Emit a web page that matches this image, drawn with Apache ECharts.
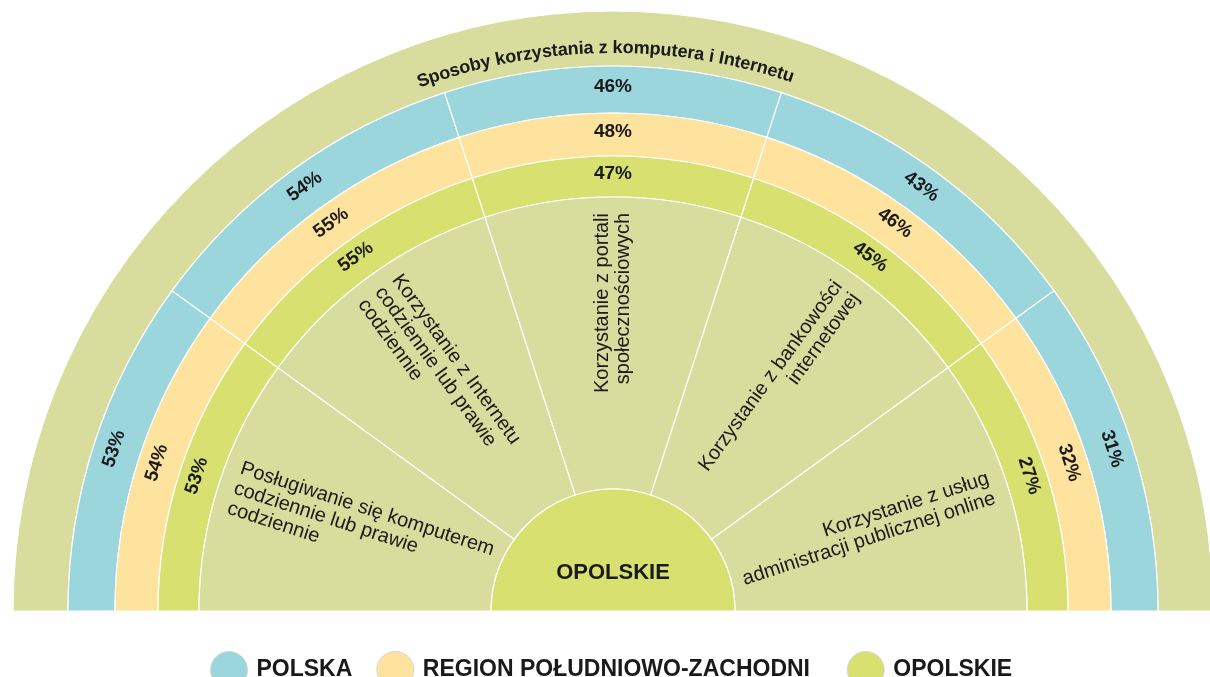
<!DOCTYPE html>
<html>
<head>
<meta charset="utf-8">
<title>Sposoby korzystania z komputera i Internetu</title>
<script src="https://cdn.jsdelivr.net/npm/echarts@6/dist/echarts.min.js"></script>
<style>
  html, body { margin: 0; padding: 0; background: #fff; }
  #chart { width: 1210px; height: 677px; }
</style>
</head>
<body>
<div id="chart"></div>
<script>
// dane
var title = 'Sposoby korzystania z komputera i Internetu';
var categories = [
  'Posługiwanie się komputerem\ncodziennie lub prawie\ncodziennie',
  'Korzystanie z Internetu\ncodziennie lub prawie\ncodziennie',
  'Korzystanie z portali\nspołecznościowych',
  'Korzystanie z bankowości\ninternetowej',
  'Korzystanie z usług\nadministracji publicznej online'
];
var polska = [53, 54, 46, 43, 31];
var region = [54, 55, 48, 46, 32];
var opolskie = [53, 55, 47, 45, 27];
var seriesNames = ['POLSKA', 'REGION POŁUDNIOWO-ZACHODNI', 'OPOLSKIE'];
var centerLabel = 'OPOLSKIE';

// wygląd
var CX = 613, CY = 611;
var FONT = '"Liberation Sans", Arial, Helvetica, sans-serif';
var ink = '#1a1a1a';
var colors = ['#9bd6dd', '#fee39e', '#d8e070'];
var bandColor = '#d8dc9c';
var ringRotate = [72, 36, 0, -36, -72];   // etykiety % stycznie
var innerRotate = [-18, -54, 90, 54, 18]; // opisy promieniście

function ringSeries(name, values, color, radius) {
  return {
    name: name,
    type: 'pie',
    center: [CX, CY],
    radius: radius,
    startAngle: 180,
    endAngle: 360,
    silent: true,
    avoidLabelOverlap: false,
    itemStyle: { color: color, borderColor: '#fff', borderWidth: 1.2 },
    label: {
      position: 'inside',
      fontFamily: FONT,
      fontSize: 19,
      fontWeight: 'bold',
      color: ink,
      formatter: function (p) { return p.data.pct + '%'; }
    },
    labelLine: { show: false },
    data: values.map(function (v, i) {
      return { name: categories[i], value: 1, pct: v, label: { rotate: ringRotate[i] } };
    })
  };
}

var chart = echarts.init(document.getElementById('chart'));

// tytuł po łuku
var measure = document.createElement('canvas').getContext('2d');
var titleFont = 'bold 18px ' + FONT;
measure.font = titleFont;
var titleR = 563;
var widths = title.split('').map(function (ch) { return measure.measureText(ch).width; });
var total = widths.reduce(function (a, b) { return a + b; }, 0);
var acc = 0;
var titleChars = title.split('').map(function (ch, i) {
  var theta = Math.PI / 2 + 0.014 + (total / 2 - acc - widths[i] / 2) / titleR;
  acc += widths[i];
  return {
    type: 'text',
    x: CX + titleR * Math.cos(theta),
    y: CY - titleR * Math.sin(theta),
    rotation: theta - Math.PI / 2,
    silent: true,
    z: 100,
    style: { text: ch, font: titleFont, fill: ink, align: 'center', verticalAlign: 'middle' }
  };
});

var legendText = { fontFamily: FONT, fontSize: 23, fontWeight: 'bold', color: ink };

chart.setOption({
  animation: false,
  backgroundColor: '#fff',
  legend: {
    left: 205,
    top: 646,
    itemWidth: 37,
    itemHeight: 37,
    itemGap: 24,
    icon: 'circle',
    selectedMode: false,
    textStyle: Object.assign({ padding: [0, 0, 0, 4], rich: {
      n: legendText,
      s: { fontSize: 23 }
    } }, legendText),
    formatter: function (name) {
      return '{n|' + name + '}' + (name === seriesNames[1] ? '{s|\u00a0\u00a0}' : '');
    },
    data: seriesNames.map(function (n, i) {
      return { name: n, itemStyle: { color: colors[i], borderColor: '#d6d6d6', borderWidth: 1 } };
    })
  },
  graphic: { elements: titleChars },
  series: [
    {
      name: 'band',
      type: 'pie',
      center: [CX, CY],
      radius: [545, 600],
      startAngle: 180,
      endAngle: 360,
      silent: true,
      itemStyle: { color: bandColor, borderColor: '#fff', borderWidth: 1.2 },
      label: { show: false },
      labelLine: { show: false },
      data: [{ name: title, value: 1 }]
    },
    ringSeries(seriesNames[0], polska, colors[0], [498, 545]),
    ringSeries(seriesNames[1], region, colors[1], [455, 498]),
    ringSeries(seriesNames[2], opolskie, colors[2], [414, 455]),
    {
      name: 'kategorie',
      type: 'pie',
      center: [CX, CY],
      radius: [122, 414],
      startAngle: 180,
      endAngle: 360,
      silent: true,
      avoidLabelOverlap: false,
      itemStyle: { color: bandColor, borderColor: '#fff', borderWidth: 1.2 },
      label: {
        position: 'inside',
        width: 266,
        overflow: 'none',
        rich: {
          l: { align: 'left', fontFamily: FONT, fontSize: 20, lineHeight: 21, color: ink },
          r: { align: 'right', fontFamily: FONT, fontSize: 20, lineHeight: 21, color: ink }
        }
      },
      labelLine: { show: false },
      data: categories.map(function (c, i) {
        var left = innerRotate[i] < 0;
        var key = left ? 'l' : 'r';
        return {
          name: c,
          value: 1,
          label: {
            rotate: innerRotate[i],
            padding: left ? [0, 0, 0, 12] : [0, 12, 0, 0],
            formatter: c.split('\n').map(function (s) { return '{' + key + '|' + s + '}'; }).join('\n')
          }
        };
      })
    },
    {
      name: 'centrum',
      type: 'pie',
      center: [CX, CY],
      radius: [0, 122],
      startAngle: 180,
      endAngle: 360,
      silent: true,
      itemStyle: { color: colors[2], borderColor: '#fff', borderWidth: 1.2 },
      label: {
        position: 'center',
        formatter: '{a|' + centerLabel + '}\n{b| }',
        rich: {
          a: { fontFamily: FONT, fontSize: 22, fontWeight: 'bold', color: ink, lineHeight: 26 },
          b: { fontSize: 10, lineHeight: 76 }
        }
      },
      labelLine: { show: false },
      data: [{ name: centerLabel, value: 1 }]
    }
  ]
});
</script>
</body>
</html>
